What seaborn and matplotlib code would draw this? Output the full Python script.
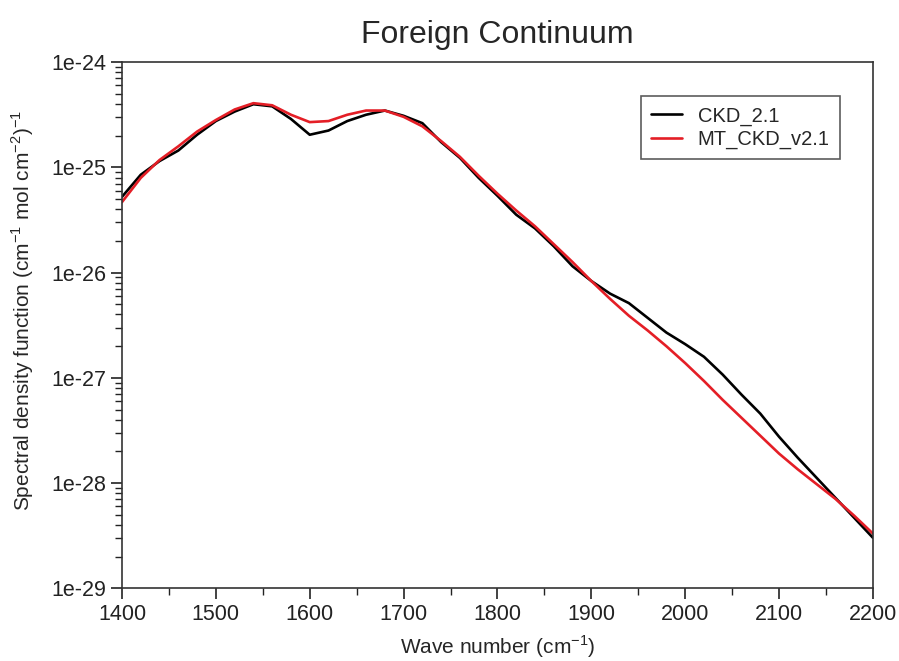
import numpy as np
import pandas as pd
import matplotlib
matplotlib.use("Agg")
import matplotlib.pyplot as plt
from matplotlib.ticker import LogLocator, MultipleLocator, FixedLocator
import seaborn as sns

# Data (log10 of spectral density)
wavenumber = [1400, 1420, 1440, 1460, 1480, 1500, 1520, 1540, 1560, 1580,
              1600, 1620, 1640, 1660, 1680, 1700, 1720, 1740, 1760, 1780,
              1800, 1820, 1840, 1860, 1880, 1900, 1920, 1940, 1960, 1980,
              2000, 2020, 2040, 2060, 2080, 2100, 2120, 2140, 2160, 2180, 2200]

ckd_log = [-25.28, -25.07, -24.94, -24.84, -24.69, -24.56, -24.47, -24.40, -24.42, -24.54,
           -24.69, -24.65, -24.56, -24.50, -24.46, -24.51, -24.58, -24.76, -24.91, -25.10,
           -25.27, -25.45, -25.58, -25.75, -25.94, -26.08, -26.20, -26.29, -26.43, -26.57,
           -26.68, -26.80, -26.97, -27.16, -27.34, -27.56, -27.76, -27.95, -28.14, -28.33, -28.52]

mtckd_log = [-25.33, -25.10, -24.93, -24.80, -24.66, -24.55, -24.45, -24.39, -24.41, -24.50,
             -24.57, -24.56, -24.50, -24.46, -24.46, -24.52, -24.61, -24.75, -24.90, -25.08,
             -25.25, -25.41, -25.56, -25.73, -25.90, -26.08, -26.25, -26.41, -26.55, -26.70,
             -26.86, -27.03, -27.21, -27.38, -27.55, -27.72, -27.87, -28.01, -28.15, -28.31, -28.48]

series_names = ["CKD_2.1", "MT_CKD_v2.1"]
series_colors = ["#000000", "#e41e26"]

df = pd.DataFrame({
    "wavenumber": wavenumber * 2,
    "value": 10.0 ** np.array(ckd_log + mtckd_log),
    "model": [series_names[0]] * len(wavenumber) + [series_names[1]] * len(wavenumber),
})

sns.set_style("ticks")
plt.rcParams["font.family"] = ["Liberation Sans", "DejaVu Sans"]
plt.rcParams["mathtext.fontset"] = "custom"
plt.rcParams["mathtext.rm"] = "Liberation Sans"

fig = plt.figure(figsize=(8.99, 6.61), dpi=100)
ax = fig.add_axes([0.1357, 0.110, 0.8353, 0.796])

sns.lineplot(data=df, x="wavenumber", y="value", hue="model",
             palette=dict(zip(series_names, series_colors)),
             linewidth=1.9, ax=ax)

ax.set_yscale("log")
ax.set_xlim(1400, 2200)
ax.set_ylim(1e-29, 1e-24)

ax.xaxis.set_major_locator(MultipleLocator(100))
ax.xaxis.set_minor_locator(MultipleLocator(50))
ax.yaxis.set_major_locator(FixedLocator([10.0 ** p for p in range(-29, -23)]))
ax.yaxis.set_minor_locator(LogLocator(base=10, subs=np.arange(2, 10), numticks=20))
ax.set_yticklabels(["1e-%d" % p for p in range(29, 23, -1)])

ax.tick_params(axis="both", which="major", direction="out", length=8, width=1.2,
               labelsize=15.5, top=False, right=False, colors="#222222")
ax.tick_params(axis="both", which="minor", direction="out", length=5, width=1.0,
               top=False, right=False, colors="#222222")
for s in ax.spines.values():
    s.set_linewidth(1.2)
    s.set_color("#333333")

ax.set_title("Foreign Continuum", fontsize=23, pad=14)
ax.set_xlabel("Wave number (cm$^{\\mathregular{-1}}$)", fontsize=15, labelpad=6)
ax.set_ylabel("Spectral density function (cm$^{\\mathregular{-1}}$ mol cm$^{\\mathregular{-2}}$)$^{\\mathregular{-1}}$",
              fontsize=15)
ax.yaxis.set_label_coords(-0.115, 0.528)

leg = ax.legend(loc="upper right", bbox_to_anchor=(0.956, 0.935), fontsize=14.5,
                frameon=True, fancybox=False, handlelength=1.5, borderpad=0.5,
                labelspacing=0.2, borderaxespad=0)
leg.get_frame().set_edgecolor("#333333")
leg.get_frame().set_linewidth(1.2)

fig.savefig("out.png", dpi=100)
